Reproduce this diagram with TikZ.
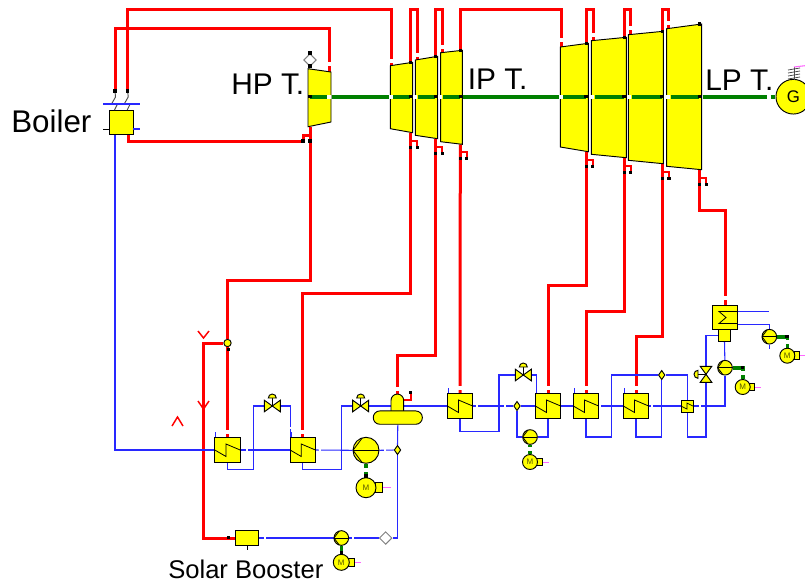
\documentclass[tikz,border=0pt]{standalone}
\usepackage{fontspec}
\setmainfont{Liberation Sans}
\usetikzlibrary{shapes.geometric,calc,backgrounds}
\definecolor{shaftgreen}{RGB}{0,128,0}
\definecolor{plantyellow}{RGB}{255,255,0}
\definecolor{pink}{RGB}{255,102,255}
\definecolor{steamred}{RGB}{255,0,0}
\definecolor{waterblue}{RGB}{40,40,255}
\tikzset{
  comp/.style={draw=black,line width=.7pt,fill=plantyellow},
  steam/.style={steamred,line width=2.25pt},
  water/.style={waterblue,line width=.8pt},
  shaft/.style={shaftgreen,line width=2.7pt},
  chev/.style={steamred,line width=1.1pt},
  port/.style={fill=black,inner sep=0pt,minimum size=2.3pt},
  gap/.style={fill=white,inner sep=0pt,minimum size=3pt},
  thingap/.style={fill=white,inner sep=0pt,minimum size=1.6pt},
  heater/.style={comp,inner sep=0pt,minimum size=#1,path picture={
    \draw[line width=.6pt] (path picture bounding box.west)
      -- ($(path picture bounding box.center)+(-1.5,6.5)$)
      -- ($(path picture bounding box.center)+(-1.5,-6)$)
      -- (path picture bounding box.east);}},
  heater/.default=19pt,
  pump/.style={comp,circle,inner sep=0pt,minimum size=#1,path picture={
    \draw[line width=.6pt] (path picture bounding box.west) -- (path picture bounding box.east);
    \draw[line width=.6pt] ($(path picture bounding box.north)!.25!(path picture bounding box.north west)$)
      -- (path picture bounding box.west)
      -- ($(path picture bounding box.south)!.25!(path picture bounding box.south west)$);}},
  jn/.style={comp,diamond,inner sep=0pt,minimum width=5pt,minimum height=7pt},
  whitediam/.style={draw=gray,line width=.7pt,fill=white,diamond,inner sep=0pt,minimum size=9.5pt},
  label/.style={inner sep=0pt,anchor=base west,font=\fontsize{#1}{#1}\selectfont},
  pics/valve/.style={code={
    \coordinate (-c) at (0,0);
    \draw[black,line width=.6pt] (0,0) -- (0,-8);
    \filldraw[comp] (-4,-8) arc[start angle=180,end angle=360,radius=4] -- cycle;
    \filldraw[comp] (-8,-5.8) -- (8,5.8) -- (8,-5.8) -- (-8,5.8) -- cycle;}},
  pics/motor/.style={code={
    \draw[pink,line width=.7pt] (#1,0) -- ++(#1*1.5,0);
    \filldraw[comp] (#1*.9,-#1*.5) rectangle (#1*1.6,#1*.5);
    \node[comp,circle,inner sep=0pt,minimum size=#1*1.5pt,font=\fontsize{6}{6}\selectfont,text=black!65!plantyellow] (-body) at (0,0) {M};}},
  pics/motor/.default=7.5
}
\begin{document}
\begin{tikzpicture}[x=.75pt,y=-.75pt]
\useasboundingbox (0,0) rectangle (805,583);

% turbines
\foreach \n/\xl/\xr/\ya/\yb/\yc/\yd in {hp/308/331/68.7/72/122/126.7,
    ipa/390.3/412.7/65.7/62.3/132.7/128.7, ipb/415.3/437.7/60/56.3/138.7/135.3,
    ipc/440.7/462.3/52.7/50.3/144.3/141.7, lpa/560.3/588.3/47/43.3/151.7/147,
    lpb/591.3/626.3/40.7/37.3/157.7/154.3, lpc/628.3/663.3/34.7/31.3/163.7/160.3,
    lpd/666.7/701.7/28.7/24/169.7/166.3} {
  \filldraw[comp] (\xl,\ya) -- (\xr,\yb) -- (\xr,\yc) -- (\xl,\yd) -- cycle;
  \coordinate (\n-in) at (\xl+2,\ya);
  \coordinate (\n-top) at (\xr-2,\yb);
  \coordinate (\n-out) at (\xr-2,\yc);
  \coordinate (\n-hook) at (\xr-2,\yc+8);
}
\coordinate (hp-in) at (329,72);
\coordinate (hp-out) at (310,126.7);
\coordinate (ipa-in) at (391.7,65.7);
\coordinate (lpa-in) at (561,47);
\coordinate (lpc-top) at (662.5,31.3);
\coordinate (lpc-out) at (662.5,163.7);
\coordinate (lpc-hook) at (662.5,172);
\coordinate (topline) at (0,9.3);

% plant items
\node[comp,inner sep=0pt,minimum size=18.2pt] (boiler) at (121.2,122.2) {};
\coordinate (boilerA) at (115,91);
\coordinate (boilerB) at (127.7,91);
\coordinate (boilerW) at (115,134.3);
\coordinate (boilerR) at (128,134.3);
\node[whitediam] (hpvalve) at (310,60) {};

\node[heater] (hA) at (227.5,450) {};
\node[heater] (hB) at (302.8,450) {};
\node[heater] (hC) at (460,406) {};
\node[heater] (hD) at (548,406) {};
\node[heater] (hE) at (586,406) {};
\node[heater] (hF) at (636,406) {};
\node[comp,inner sep=0pt,minimum size=9pt,path picture={
  \draw[line width=.5pt] (path picture bounding box.west) -- ++(6,3) -- ++(0,-6) -- (path picture bounding box.east);}] (hG) at (687,406) {};

\filldraw[comp] (391,411) -- (391,400.4) arc[start angle=180,end angle=360,radius=6.35] -- (403.7,411);
\coordinate (dome) at (397.3,394);
\coordinate (domeW) at (391,406);
\coordinate (domeE) at (403.7,406);
\node[comp,rounded corners=4.9pt,inner sep=0pt,minimum width=36.8pt,minimum height=10pt] (tank) at (397.8,417.6) {};
\node[jn] (jnA) at (397.5,450) {};
\node[comp,circle,inner sep=0pt,minimum size=5.5pt] (jnS) at (227.5,343) {};
\node[jn] (jnC) at (661.7,375) {};
\node[jn] (jnD) at (517,406) {};
\node[whitediam] (wdB) at (385.7,538) {};

\node[pump=19.5pt] (pumpA) at (366,450.3) {};
\node[pump=11pt] (pumpB) at (341.3,538) {};
\node[pump=11pt] (pumpD) at (530,437) {};
\node[pump=11pt,rotate=-90] (pumpE) at (725,367.7) {};
\node[pump=11pt,rotate=-90] (pumpF) at (769.3,336.7) {};
\pic (motorA) at (366,487.7) {motor=10};
\pic (motorB) at (341.3,562.3) {motor=8};
\pic (motorD) at (530,462) {motor=7.5};
\pic (motorE) at (742.7,387) {motor=7.5};
\pic (motorF) at (787.3,355.7) {motor=7.5};

\pic (vA) at (272.3,406) {valve};
\pic (vB) at (360.7,406) {valve};
\pic (vC) at (523.3,375) {valve};
\pic[rotate=90] (vD) at (706,374.3) {valve};

\node[comp,inner sep=0pt,minimum size=18.3pt,path picture={
  \draw[line width=.6pt] ($(path picture bounding box.center)+(12,-6)$) -- ++(-18,0) -- ++(7,6) -- ++(-7,6) -- ++(18,0);}] (cond) at (725,317.5) {};
\node[comp,inner sep=0pt,minimum width=8.7pt,minimum height=9pt] (well) at (724.5,335.7) {};
\node[comp,inner sep=0pt,minimum width=17pt,minimum height=10.7pt] (solar) at (246.7,538) {};
\coordinate (solarT) at (247.7,550);
\coordinate (cwA) at (769.3,311.7);
\coordinate (cwB) at (769.3,324.3);
\coordinate (cwC) at (769.3,349.3);

\node[comp,circle,inner sep=0pt,minimum size=26pt,font=\fontsize{12.6}{12.6}\selectfont] (gen) at (793.3,96.7) {G};
\coordinate (genT) at (794,67);

% connectors go below the items
\begin{scope}[on background layer]
\draw[steam] (boilerA) -- (115,28.5) -| (hp-in);
\draw[steam] (boilerB) -- (127.7,9.5) -| (ipa-in);
\draw[steam] (boilerR) -- (128,141) -- (303,141) -- (303,135) -- (310,135);
\draw[steam] (hp-out) -- (310,280) -| (jnS);
\draw[steam] (jnS) -- (hA.north);
\draw[steam] (jnS) -- (203,343) -- (203,538) -- (solar.west);
\foreach \a/\b in {ipa/ipb, ipb/ipc, lpa/lpb, lpb/lpc, lpc/lpd}
  \draw[steam] (\a-top) -- (\a-top |- topline) -- (\b-in |- topline) -- (\b-in);
\draw[steam] (ipc-top) -- (ipc-top |- topline) -- (lpa-in |- topline) -- (lpa-in);
\draw[steam] (ipa-out) -- (410.7,293) -| (hB.north);
\draw[steam] (ipb-out) -- (435.7,355) -| (dome);
\draw[steam] (ipc-out) -- (hC.north);
\draw[steam] (lpa-out) -- (586.3,285) -| (hD.north);
\draw[steam] (lpb-out) -- (624.3,311.7) -| (hE.north);
\draw[steam] (lpc-out) -- (662.5,336.7) -| (hF.north);
\draw[steam] (lpd-out) -- (699.7,210) -| (cond.north);
\foreach \n in {ipa,ipb,ipc,lpa,lpb,lpc,lpd}
  \draw[steamred,line width=1.7pt] (\n-hook) -- ++(6.5,0) -- ++(0,6.5);
\draw[steamred,line width=1.7pt] (403.7,400) -- (410.7,400) -- (410.7,393);

\draw[water] (boilerW) |- (hA.west);
\draw[water] (hA.east) -- (hB.west);
\draw[water] (hB.east) -- (pumpA.west);
\draw[water] (pumpA.east) -- (jnA.west);
\draw[water] (tank.south) -- (jnA.north);
\draw[water] (jnA.south) -- (397.5,538) -- (wdB.east);
\draw[water] (wdB.west) -- (pumpB.east);
\draw[water] (pumpB.west) -- (solar.east);
\draw[water] (hA.south) -- (227.5,469.3) -| (253.3,406) -- (vA-c);
\draw[water] (vA-c) -| (290.7,437.5);
\draw[water] (hB.south) -- (302.8,469.3) -| (341.3,406) -- (vB-c);
\draw[water] (vB-c) -- (domeW);
\draw[water] (domeE) -- (hC.west);
\draw[water] (hC.south) -- (460,431.3) -| (499,375) -- (vC-c);
\draw[water] (vC-c) -| (536.7,394);
\draw[water] (hC.east) -- (jnD.west);
\draw[water] (jnD.east) -- (hD.west);
\draw[water] (jnD.south) -- (517,437) -- (pumpD.west);
\draw[water] (pumpD.east) -- (548,437) -- (hD.south);
\draw[water] (hD.east) -- (hE.west);
\draw[water] (hE.east) -- (hF.west);
\draw[water] (hF.east) -- (hG.west);
\draw[water] (hG.east) -- (725,406) -- (pumpE);
\draw[water] (pumpE) -- (well.south);
\draw[water] (hF.south) -- (636,437) -| (jnC.south);
\draw[water] (hE.south) -- (586,437) -| (611.7,375) -- (jnC.west);
\draw[water] (jnC.east) -- (687.7,375) -- (687.7,437) -- (706,437) -- (vD-c);
\draw[water] (vD-c) |- (well.west);
\draw[water] (cond.east |- cwA) -- (cwA);
\draw[water] (cond.east |- cwB) -- (cwB) -- (pumpF) -- (cwC);
\foreach \n in {hA,hB,hC,hD,hE,hF}
  \draw[water] ($(\n.north west)+(1.5,0)$) -- ++(0,-5);

\draw[shaft] (pumpA) -- (motorA-body);
\draw[shaft] (pumpB) -- (motorB-body);
\draw[shaft] (pumpD) -- (motorD-body);
\draw[shaft] (pumpE) -| (motorE-body);
\draw[shaft] (pumpF) -| (motorF-body);

% white breaks in the lines
\foreach \x/\y in {329/64,391.7/61,416.7/54.5,441.7/47,561/40,593.7/34.5,631/28,669.3/23,
    227.5/431.7,302.8/431.7,460/388,548/388,586/388,636/388,725/298,397.3/389,
    366/469.5,530/449,742.7/372.5,787/342}
  \node[gap] at (\x,\y) {};
\foreach \x/\y in {247/450,320/450,385/450,265/538,352.7/538,476.7/406,505/406,560/406,600/406,652/406,700/406,290.7/428}
  \node[thingap] at (\x,\y) {};
\end{scope}

% boiler inlets
\foreach \n in {boilerA,boilerB}
  \draw[gray!60!black,line width=.7pt] (\n) -- ++(0.5,6) -- ++(-4,7) -- ++(6,0) -- ++(-3,6);
\draw[water] (103,104) -- (140,104);
\draw[black,line width=.7pt] (103,129) -- (109,129);
\draw[water] (133,129) -- (140,129);
\draw[black,line width=.7pt] (solar.south -| solarT) -- (solarT);

% shaft
\foreach \a/\b in {310/326.7,331.7/389,393/410,418/435,443/460,462.7/558.7,563/586,595/624,632/661.7,670.7/699.3,702.7/766.7,770.7/775}
  \draw[shaft] (\a,96.7) -- (\b,96.7);
\foreach \x in {329,391,415,440,561,591.5,629,668}
  \node[gap] at (\x,96.7) {};
\foreach \x in {310,410.5,435.5,460.5,586,624,662,699.5}
  \node[port] at (\x,96.7) {};

% ports
\foreach \n in {ipa,ipb,ipc,lpa,lpb,lpc,lpd} {
  \node[port] at (\n-top) {};
  \node[port] at ($(\n-hook)+(0,6.5)$) {};
  \node[port] at ($(\n-hook)+(6.5,6.5)$) {};
}
\foreach \n in {boilerA,boilerB}
  \node[port] at (\n) {};
\foreach \x/\y in {303/141,310/141,310/66,310/53,228.5/349.3,228.3/537.7,410.7/392.5,742.7/367.7,787/336.7,366/476,341.3/553}
  \node[port] at (\x,\y) {};

% generator earth
\draw[gray!60!black,line width=.6pt] (genT) -- (794,79.5);
\foreach \y in {69,72,75,78}
  \draw[gray!60!black,line width=.6pt] (788,\y+1) -- (800,\y-1);
\draw[pink,line width=.8pt] (genT) -- (805,65.7);

% flow marks
\draw[chev] (198,331) -- (203.5,338) -- (209,331);
\draw[chev] (198,401) -- (203.5,409) -- (209,401);
\draw[chev] (172,426) -- (177.5,417) -- (183,426);

\node[label=23.5] (boilerlabel) at (11,132) {Boiler};
\node[label=22.4] (hplabel) at (231,94.3) {HP T.};
\node[label=22.4] (iplabel) at (467.5,89.3) {IP T.};
\node[label=22.4] (lplabel) at (705,90) {LP T.};
\node[label=19.2] (solarlabel) at (168,578) {Solar Booster};
\end{tikzpicture}
\end{document}
